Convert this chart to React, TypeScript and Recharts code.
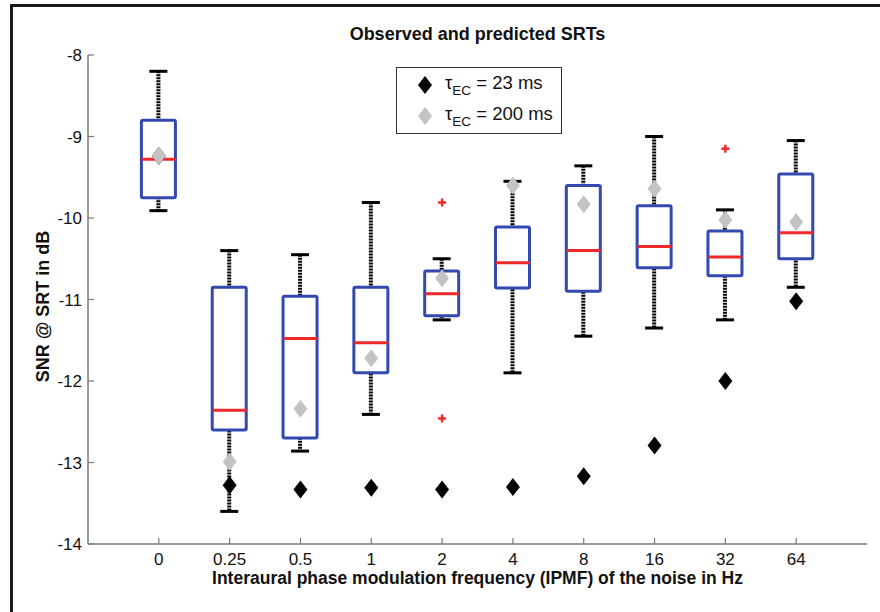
import { ComposedChart, Bar, Scatter, XAxis, YAxis, Legend } from "recharts"

// IPMF categories (Hz)
const categories = ["0", "0.25", "0.5", "1", "2", "4", "8", "16", "32", "64"]

// observed SRTs (box plot stats, dB)
const whiskerLow = [-9.91, -13.6, -12.86, -12.41, -11.25, -11.9, -11.45, -11.35, -11.25, -10.85]
const q1 = [-9.75, -12.6, -12.7, -11.9, -11.2, -10.86, -10.9, -10.61, -10.71, -10.5]
const median = [-9.28, -12.36, -11.48, -11.53, -10.93, -10.55, -10.4, -10.35, -10.48, -10.18]
const q3 = [-8.8, -10.85, -10.96, -10.85, -10.65, -10.11, -9.6, -9.85, -10.16, -9.46]
const whiskerHigh = [-8.2, -10.4, -10.45, -9.81, -10.5, -9.55, -9.36, -9.0, -9.9, -9.05]

// outliers: category, value
const outlierCats = ["2", "2", "32"]
const outlierVals = [-9.81, -12.46, -9.15]

// predicted SRTs
const pred23 = [-9.24, -13.28, -13.33, -13.31, -13.33, -13.3, -13.17, -12.79, -12.0, -11.02]
const pred200 = [-9.24, -12.99, -12.34, -11.72, -10.74, -9.6, -9.83, -9.64, -10.02, -10.05]

const yTicks = [-14, -13, -12, -11, -10, -9, -8]

const FONT = "'Liberation Sans', Arial, Helvetica, sans-serif"
const BLUE = "#3349b0"
const RED = "#f02a2a"
const GRAY = "#c3c3c3"
const AXIS = "#7a7a7a"

const xPos = (c: string) => categories.indexOf(c) + 1
const xTicks = categories.map((_, i) => i + 1)

const boxData = categories.map((c, i) => ({
  x: xPos(c),
  whisker: [whiskerLow[i], whiskerHigh[i]],
  box: [q1[i], q3[i]],
}))
const medianData = categories.map((c, i) => ({ x: xPos(c), y: median[i] }))
const tau23Data = categories.map((c, i) => ({ x: xPos(c), y: pred23[i] }))
const tau200Data = categories.map((c, i) => ({ x: xPos(c), y: pred200[i] }))
const outlierData = outlierCats.map((c, i) => ({ x: xPos(c), y: outlierVals[i] }))

const BOX_W = 34

const WhiskerShape = (props: any) => {
  const { x, y, width, height } = props
  const cx = x + width / 2
  return (
    <g>
      <line x1={cx} x2={cx} y1={y} y2={y + height} stroke="#000" strokeWidth={4} strokeDasharray="2 1" />
      <line x1={cx - 9} x2={cx + 9} y1={y} y2={y} stroke="#000" strokeWidth={3} />
      <line x1={cx - 9} x2={cx + 9} y1={y + height} y2={y + height} stroke="#000" strokeWidth={3} />
    </g>
  )
}

const BoxShape = (props: any) => {
  const { x, y, width, height } = props
  return <rect x={x} y={y} width={width} height={height} fill="#fff" stroke={BLUE} strokeWidth={3} rx={1.5} />
}

const MedianShape = (props: any) => {
  const { cx, cy } = props
  return <line x1={cx - BOX_W / 2} x2={cx + BOX_W / 2} y1={cy} y2={cy} stroke={RED} strokeWidth={3} />
}

const Diamond = ({ cx, cy, color }: { cx: number; cy: number; color: string }) => (
  <polygon points={`${cx},${cy - 9} ${cx + 7},${cy} ${cx},${cy + 9} ${cx - 7},${cy}`} fill={color} />
)

const PlusShape = (props: any) => {
  const { cx, cy } = props
  return (
    <g stroke={RED} strokeWidth={2.5}>
      <line x1={cx - 4} x2={cx + 4} y1={cy} y2={cy} />
      <line x1={cx} x2={cx} y1={cy - 4} y2={cy + 4} />
    </g>
  )
}

const LegendBox = () => {
  const row = (color: string, label: string) => (
    <div style={{ display: "flex", alignItems: "center", height: 31 }}>
      <svg width={28} height={22} style={{ marginLeft: 14, marginRight: 6 }}>
        <Diamond cx={14} cy={11} color={color} />
      </svg>
      <span style={{ fontSize: 18.5, color: "#111", whiteSpace: "nowrap" }}>
        τ<sub style={{ fontSize: 13.5, verticalAlign: -6 }}>EC</sub> = {label}
      </span>
    </div>
  )
  return (
    <div style={{ border: "1px solid #333", background: "#fff", width: 166, height: 67, fontFamily: FONT, paddingTop: 1, boxSizing: "border-box" }}>
      {row("#000", "23 ms")}
      {row(GRAY, "200 ms")}
    </div>
  )
}

const axisLine = { stroke: AXIS, strokeWidth: 1.5 }

export default function App() {
  return (
    <div style={{ position: "absolute", left: 0, top: 0, width: 880, height: 612, background: "#fff", overflow: "hidden", fontFamily: FONT }}>
      <div style={{ position: "absolute", left: 10, top: 4, width: 900, height: 640, borderLeft: "3px solid #1a1a1a", borderTop: "3px solid #1a1a1a" }} />
      <div style={{ position: "absolute", left: 88, width: 779, top: 24, textAlign: "center", fontSize: 18, fontWeight: "bold", color: "#111" }}>
        Observed and predicted SRTs
      </div>
      <div style={{ position: "absolute", left: 0, top: 0 }}>
        <ComposedChart width={880} height={612} data={boxData} margin={{ top: 55, right: 13, left: 0, bottom: 0 }} barGap={-BOX_W}>
          <XAxis
            dataKey="x"
            type="number"
            domain={[0, 11]}
            ticks={xTicks}
            interval={0}
            allowDataOverflow
            tickFormatter={(v: number) => categories[v - 1] ?? ""}
            tickSize={-6}
            tickMargin={15}
            height={68}
            axisLine={axisLine}
            tickLine={{ stroke: AXIS, strokeWidth: 1.2 }}
            tick={{ fill: "#111", fontSize: 17, fontFamily: FONT }}
            label={{
              content: (p: any) => (
                <text x={p.viewBox.x + p.viewBox.width / 2} y={p.viewBox.y + 40} textAnchor="middle" fontSize={17.5} fontWeight="bold" fontFamily={FONT} fill="#111">
                  Interaural phase modulation frequency (IPMF) of the noise in Hz
                </text>
              ),
            }}
          />
          <XAxis
            xAxisId="top"
            orientation="top"
            type="number"
            dataKey="x"
            domain={[0, 11]}
            ticks={xTicks}
            interval={0}
            allowDataOverflow
            tick={false}
            tickSize={-6}
            height={0}
            axisLine={axisLine}
            tickLine={{ stroke: AXIS, strokeWidth: 1.2 }}
          />
          <YAxis
            type="number"
            domain={[-14, -8]}
            ticks={yTicks}
            interval={0}
            allowDataOverflow
            width={88}
            tickSize={-6}
            tickMargin={12}
            axisLine={axisLine}
            tickLine={{ stroke: AXIS, strokeWidth: 1.2 }}
            tick={{ fill: "#111", fontSize: 17, fontFamily: FONT }}
            label={{
              content: (p: any) => {
                const cx = p.viewBox.x + 43
                const cy = p.viewBox.y + p.viewBox.height / 2 + 7
                return (
                  <text x={cx} y={cy} transform={`rotate(-90 ${cx} ${cy})`} textAnchor="middle" dominantBaseline="central" fontSize={18} fontWeight="bold" fontFamily={FONT} fill="#111">
                    SNR @ SRT in dB
                  </text>
                )
              },
            }}
          />
          <YAxis
            yAxisId="right"
            orientation="right"
            type="number"
            domain={[-14, -8]}
            ticks={yTicks}
            interval={0}
            allowDataOverflow
            width={0}
            tick={false}
            tickSize={-6}
            axisLine={axisLine}
            tickLine={{ stroke: AXIS, strokeWidth: 1.2 }}
          />
          <Legend
            layout="horizontal"
            verticalAlign="middle"
            align="center"
            wrapperStyle={{ left: 396, top: 67, width: 166 }}
            content={() => <LegendBox />}
          />
          <Bar dataKey="whisker" barSize={BOX_W} shape={WhiskerShape} isAnimationActive={false} legendType="none" />
          <Bar dataKey="box" barSize={BOX_W} shape={BoxShape} isAnimationActive={false} legendType="none" />
          <Scatter data={medianData} dataKey="y" shape={MedianShape} isAnimationActive={false} legendType="none" />
          <Scatter data={outlierData} dataKey="y" shape={PlusShape} isAnimationActive={false} legendType="none" />
          <Scatter
            name="τEC = 23 ms"
            data={tau23Data}
            dataKey="y"
            shape={(p: any) => <Diamond cx={p.cx} cy={p.cy} color="#000" />}
            isAnimationActive={false}
          />
          <Scatter
            name="τEC = 200 ms"
            data={tau200Data}
            dataKey="y"
            shape={(p: any) => <Diamond cx={p.cx} cy={p.cy} color={GRAY} />}
            isAnimationActive={false}
          />
        </ComposedChart>
      </div>
    </div>
  )
}
